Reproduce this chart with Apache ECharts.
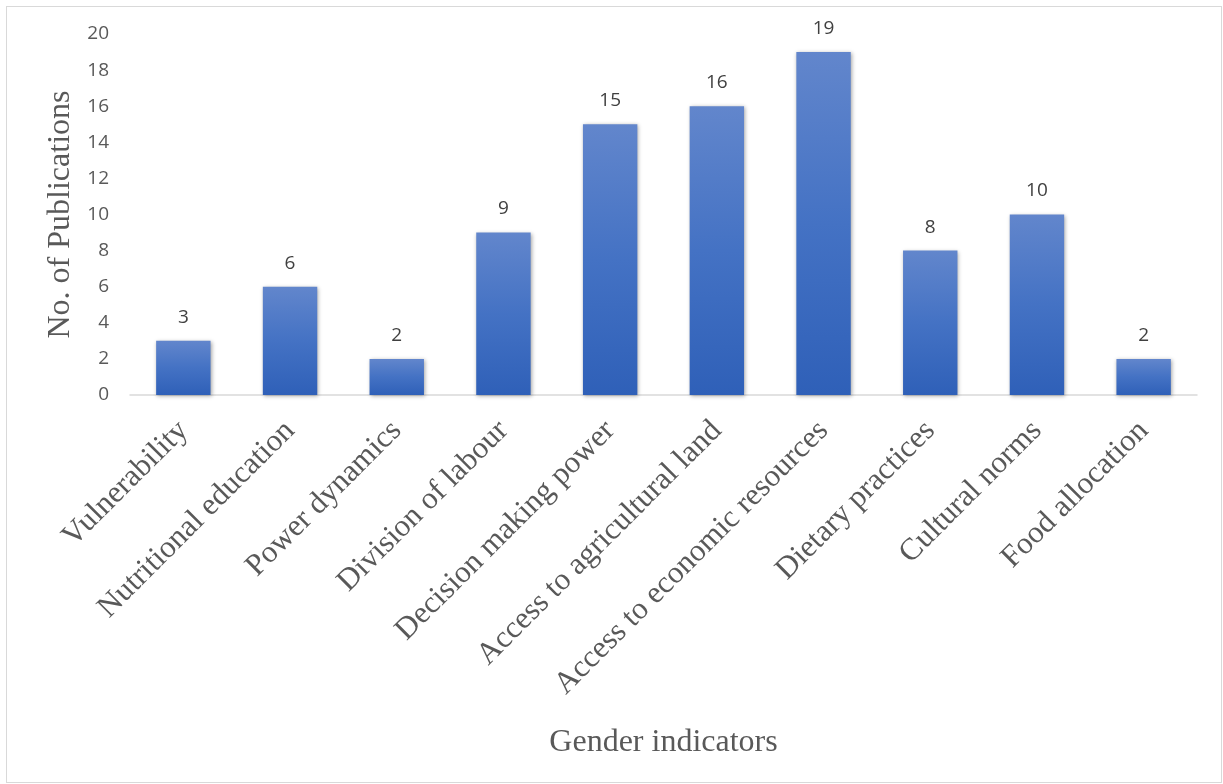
<!DOCTYPE html>
<html><head><meta charset="utf-8">
<script src="https://cdn.jsdelivr.net/npm/echarts@6/dist/echarts.min.js"></script>
<style>html,body{margin:0;padding:0;background:#fff}#c{width:1223px;height:784px}
#frame{position:absolute;left:6px;top:6px;width:1216px;height:777px;border:1px solid #d9d9d9;box-sizing:border-box;pointer-events:none}</style>
</head><body><div id="c"></div><div id="frame"></div>
<script>
var categories = ["Vulnerability","Nutritional education","Power dynamics","Division of labour","Decision making power","Access to agricultural land","Access to economic resources","Dietary practices","Cultural norms","Food allocation"];
var values = [3,6,2,9,15,16,19,8,10,2];
var yTicks = {min:0,max:20,interval:2};
var chart = echarts.init(document.getElementById('c'));
chart.setOption({
  animation:false,
  grid:{left:130,right:26,top:34,bottom:389,containLabel:false},
  xAxis:{type:'category',data:categories,
    name:'Gender indicators',nameLocation:'middle',nameGap:332,
    nameTextStyle:{fontFamily:'Liberation Serif',fontSize:32,color:'#595959'},
    axisLine:{lineStyle:{color:'#d9d9d9',width:1.5}},axisTick:{show:false},
    axisLabel:{rotate:45,interval:0,margin:31,fontFamily:'Liberation Serif',fontSize:31,color:'#595959'}},
  yAxis:{type:'value',min:yTicks.min,max:yTicks.max,interval:yTicks.interval,
    name:'No. of Publications',nameLocation:'middle',nameGap:52,
    nameTextStyle:{fontFamily:'Liberation Serif',fontSize:32,color:'#595959'},
    splitLine:{show:false},axisLine:{show:false},axisTick:{show:false},
    axisLabel:{fontFamily:'Open Sans',fontSize:19,color:'#595959',margin:21}},
  series:[{type:'bar',data:values,barWidth:'51%',
    itemStyle:{color:new echarts.graphic.LinearGradient(0,0,0,1,[{offset:0,color:'#6286cc'},{offset:0.5,color:'#4472c4'},{offset:1,color:'#2f60b8'}]),
      shadowColor:'rgba(0,0,0,0.35)',shadowBlur:4,shadowOffsetX:1,shadowOffsetY:1},
    label:{show:true,position:'top',distance:14,fontFamily:'Open Sans',fontSize:19,color:'#404040'}}]
});
</script></body></html>
